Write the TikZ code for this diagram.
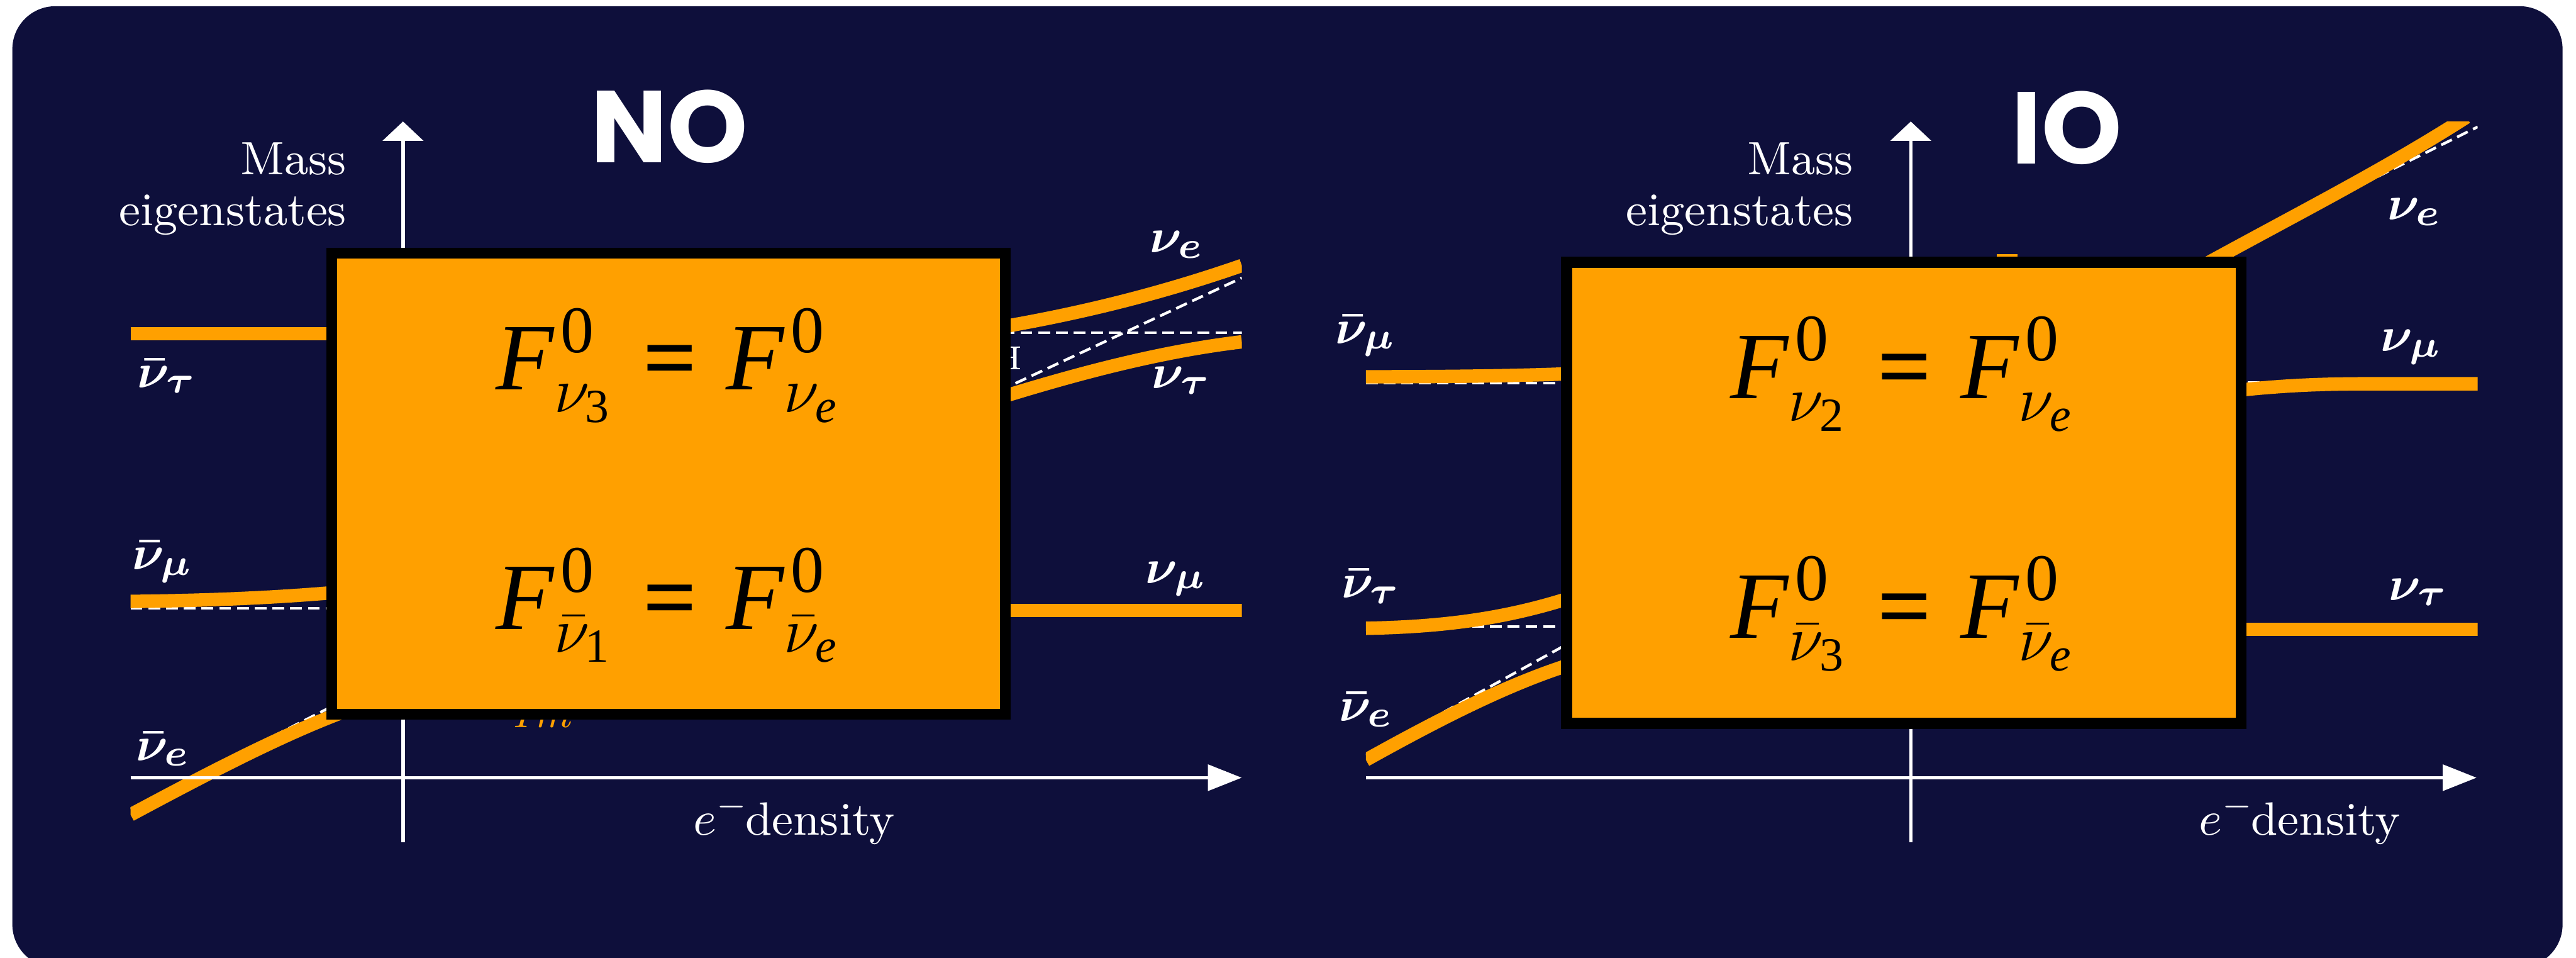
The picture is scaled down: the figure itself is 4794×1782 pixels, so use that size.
\documentclass[tikz,border=0pt]{standalone}
\usepackage{amsmath,amssymb}
\usepackage{fontspec}
\usetikzlibrary{arrows.meta}
\newfontfamily\tms{Liberation Serif}
\newfontfamily\titlefont{Poppins}
\definecolor{navy}{RGB}{14,15,59}
\definecolor{band}{RGB}{255,160,0}
\tikzset{
  bandline/.style={draw=band, line width=2.5pt, line cap=butt},
  guide/.style={draw=white, line width=0.5pt, dash pattern=on 2.2pt off 1.1pt},
  axisline/.style={draw=white, line width=0.65pt},
  fbox/.style={fill=band, draw=black, line width=2.05pt},
  lbl/.style={text=white, inner sep=0pt, font=\fontsize{9.5}{11}\selectfont},
  txt/.style={text=white, inner sep=0pt, font=\fontsize{8.7}{10}\selectfont},
  ttl/.style={text=white, inner sep=0pt, font=\titlefont\bfseries\fontsize{19}{22}\selectfont},
  eqn/.style={inner sep=0pt, font=\fontsize{17.7}{20}\selectfont},
}
\newcommand{\tF}{\text{\tms\itshape F}}
\newcommand{\tZ}{\text{\tms\kern0.1em 0}}
\newcommand{\tsb}[1]{\text{\tms #1}}
\newcommand{\tie}{\text{\tms\itshape e}}
\newcommand{\teq}{\mathrel{\text{\tms\bfseries\kern0.03em=\kern0.03em}}}
\begin{document}
\begin{tikzpicture}[x=0.1pt,y=-0.1pt]
\useasboundingbox (0,0) rectangle (4794,1782);
\fill[white] (0,0) rectangle (4794,1782);
\fill[navy, rounded corners=8pt] (23,11.5) rectangle (4769,1800);

% ---------- NO panel curves ----------
\begin{scope}
\clip (243,226) rectangle (2311,1600);
\draw[guide] (243,1132) -- (700,1132);
\draw[guide] (243,1505) -- (650,1298);
\draw[guide] (1800,619) -- (2311,619);
\draw[guide] (1800,755) -- (2311,517);
\draw[bandline] (243,621) -- (700,621);
\draw[bandline] (243,1119) .. controls (420,1117) and (540,1110) .. (650,1100);
\draw[bandline] (243,1516) .. controls (420,1421) and (560,1350) .. (680,1310);
\draw[bandline] (1860,609) .. controls (2000,585) and (2150,550) .. (2311,494);
\draw[bandline] (1860,740) .. controls (1990,700) and (2150,655) .. (2311,636);
\draw[bandline] (1850,1136) -- (2311,1136);
\end{scope}
% ---------- IO panel curves ----------
\begin{scope}
\clip (2542,226) rectangle (4611,1600);
\draw[guide] (2542,713) -- (2950,713);
\draw[guide] (2542,1166) -- (2950,1166);
\draw[guide] (2542,1405) -- (2950,1180);
\draw[guide] (4100,490) -- (4611,236);
\draw[guide] (4150,712) -- (4611,712);
\draw[bandline] (2542,701) .. controls (2700,701) and (2850,699) .. (2950,694);
\draw[bandline] (2542,1169) .. controls (2700,1166) and (2820,1148) .. (2950,1103);
\draw[bandline] (2542,1414) .. controls (2700,1326) and (2830,1262) .. (2950,1228);
\draw[bandline] (4080,505) .. controls (4280,395) and (4430,320) .. (4590,218);
\draw[bandline] (4140,729) .. controls (4250,716) and (4330,714) .. (4420,714) -- (4611,714);
\draw[bandline] (4150,1171) -- (4611,1171);
\end{scope}

% ---------- axes ----------
\coordinate (noYb) at (750,1567);  \coordinate (noYt) at (750,226);
\coordinate (noXl) at (243,1447);  \coordinate (noXr) at (2311,1447);
\coordinate (ioYb) at (3556,1567); \coordinate (ioYt) at (3556,226);
\coordinate (ioXl) at (2542,1447); \coordinate (ioXr) at (4609,1447);
\draw[axisline, -{Triangle[length=3.6pt,width=7.5pt]}] (noYb) -- (noYt);
\draw[axisline, -{Triangle[length=6.3pt,width=4.8pt]}] (noXl) -- (noXr);
\draw[axisline, -{Triangle[length=3.6pt,width=7.5pt]}] (ioYb) -- (ioYt);
\draw[axisline, -{Triangle[length=6.3pt,width=4.8pt]}] (ioXl) -- (ioXr);

% ---------- partly hidden pieces ----------
\node[anchor=base east, inner sep=0pt, text=white, font=\fontsize{6.2}{7}\selectfont] (hres) at (1905,687) {H};
\node[anchor=base west, inner sep=0pt, text=band, font=\fontsize{7.5}{9}\selectfont] (imres) at (953,1353) {$Im$};
\fill[band] (3716,473) rectangle (3755,479);

% ---------- boxes ----------
\path[fbox] (617.25,471.25) rectangle (1870.75,1328.75);
\path[fbox] (2915.25,488.25) rectangle (4170.75,1345.75);
\node[eqn, anchor=base] (noeq1) at (1245,725) {$\tF^{\tZ}_{\nu_{\tsb{3}}} \teq \tF^{\tZ}_{\nu_{\tie}}$};
\node[eqn, anchor=base] (noeq2) at (1245,1171) {$\tF^{\tZ}_{\bar{\nu}_{\tsb{1}}} \teq \tF^{\tZ}_{\bar{\nu}_{\tie}}$};
\node[eqn, anchor=base] (ioeq1) at (3542,741) {$\tF^{\tZ}_{\nu_{\tsb{2}}} \teq \tF^{\tZ}_{\nu_{\tie}}$};
\node[eqn, anchor=base] (ioeq2) at (3542,1187) {$\tF^{\tZ}_{\bar{\nu}_{\tsb{3}}} \teq \tF^{\tZ}_{\bar{\nu}_{\tie}}$};

% ---------- titles and axis texts ----------
\node[ttl, anchor=base] (noT) at (1246,303) {NO};
\node[ttl, anchor=base] (ioT) at (3846,305) {IO};
\node[txt, anchor=base east] (noM1) at (647,325) {Mass};
\node[txt, anchor=base east] (noM2) at (647,419) {eigenstates};
\node[txt, anchor=base east] (ioM1) at (3451,325) {Mass};
\node[txt, anchor=base east] (ioM2) at (3451,419) {eigenstates};
\node[txt, anchor=base west] (noD) at (1288,1554) {$e^{-}$\kern-0.1em density};
\node[txt, anchor=base west] (ioD) at (4090,1554) {$e^{-}$\kern-0.1em density};

% ---------- state labels ----------
\node[lbl, anchor=base west] (nbt) at (254,721) {$\boldsymbol{\bar{\nu}_{\tau}}$};
\node[lbl, anchor=base west] (nbm) at (244,1060) {$\boldsymbol{\bar{\nu}_{\mu}}$};
\node[lbl, anchor=base west] (nbe) at (251,1415) {$\boldsymbol{\bar{\nu}_{e}}$};
\node[lbl, anchor=base west] (nne) at (2138,470) {$\boldsymbol{\nu_{e}}$};
\node[lbl, anchor=base west] (nnt) at (2142,723) {$\boldsymbol{\nu_{\tau}}$};
\node[lbl, anchor=base west] (nnm) at (2130,1085) {$\boldsymbol{\nu_{\mu}}$};
\node[lbl, anchor=base west] (ibm) at (2483,639) {$\boldsymbol{\bar{\nu}_{\mu}}$};
\node[lbl, anchor=base west] (ibt) at (2495,1113) {$\boldsymbol{\bar{\nu}_{\tau}}$};
\node[lbl, anchor=base west] (ibe) at (2490,1342) {$\boldsymbol{\bar{\nu}_{e}}$};
\node[lbl, anchor=base west] (ine) at (4441,409) {$\boldsymbol{\nu_{e}}$};
\node[lbl, anchor=base west] (inm) at (4429,654) {$\boldsymbol{\nu_{\mu}}$};
\node[lbl, anchor=base west] (int) at (4444,1117) {$\boldsymbol{\nu_{\tau}}$};
\end{tikzpicture}
\end{document}
